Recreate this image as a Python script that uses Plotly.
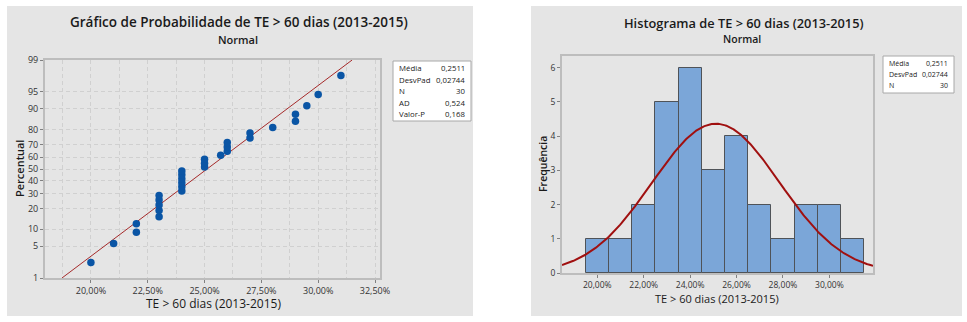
import plotly.graph_objects as go
from statistics import NormalDist
import numpy as np

W, H = 967, 322

# ---- data ----
te_values = [0.2000, 0.2100, 0.2200, 0.2200,
             0.2300, 0.2300, 0.2300, 0.2300, 0.2300,
             0.2400, 0.2400, 0.2400, 0.2400, 0.2400, 0.2400,
             0.2500, 0.2500, 0.2500, 0.2571,
             0.2600, 0.2600, 0.2600, 0.2700, 0.2700, 0.2800,
             0.2900, 0.2900, 0.2950, 0.3000, 0.3100]
mean_val = 0.2511
sd_val = 0.02744
n_val = 30
ad_val = "0,524"
p_val = "0,168"

hist_centers = [0.20, 0.21, 0.22, 0.23, 0.24, 0.25, 0.26, 0.27, 0.28, 0.29, 0.30, 0.31]
hist_counts = [1, 1, 2, 5, 6, 3, 4, 2, 1, 2, 2, 1]

prob_ticks = [1, 5, 10, 20, 30, 40, 50, 60, 70, 80, 90, 95, 99]

nd = NormalDist()
FONT = "Open Sans"


def px(x):
    return x / W


def py(y):
    return 1 - y / H


# median-rank plotting positions (Minitab default)
xs = sorted(te_values)
n = len(xs)
zs = [nd.inv_cdf((i + 1 - 0.3) / (n + 0.4)) for i in range(n)]
pct_txt = [f"{100*(i+1-0.3)/(n+0.4):.1f}" for i in range(n)]

zlim = nd.inv_cdf(0.99)
line_z = [-zlim, zlim]
line_x = [mean_val + sd_val * z for z in line_z]

fig = go.Figure()

fig.add_trace(go.Scatter(x=line_x, y=line_z, mode="lines",
                         line=dict(color="#A52A2A", width=1),
                         xaxis="x", yaxis="y", showlegend=False, hoverinfo="skip"))
fig.add_trace(go.Scatter(x=xs, y=zs, mode="markers",
                         marker=dict(color="#0A55A5", size=7.5),
                         text=pct_txt, xaxis="x", yaxis="y", showlegend=False))

# histogram
fig.add_trace(go.Bar(x=hist_centers, y=hist_counts, width=0.01,
                     marker=dict(color="#7BA6D8", line=dict(color="#4F5358", width=1)),
                     xaxis="x2", yaxis="y2", showlegend=False))
cx = np.linspace(0.1848, 0.3188, 300)
cy = [n_val * 0.01 * NormalDist(mean_val, sd_val).pdf(v) for v in cx]
fig.add_trace(go.Scatter(x=cx, y=cy, mode="lines",
                         line=dict(color="#A01010", width=2),
                         xaxis="x2", yaxis="y2", showlegend=False, hoverinfo="skip"))

frame = dict(showline=True, mirror=True, linecolor="#BDBDBD", linewidth=2,
             ticks="outside", ticklen=3, tickcolor="#808080", automargin=False,
             zeroline=False)

fig.update_layout(
    width=W, height=H, margin=dict(l=0, r=0, t=0, b=0, autoexpand=False),
    paper_bgcolor="white", plot_bgcolor="white",
    separators=",.",
    xaxis=dict(domain=[px(45), px(380)], range=[0.1798, 0.3272],
               tickvals=[0.20, 0.225, 0.25, 0.275, 0.30, 0.325], tickformat=".2%",
               showgrid=True, gridcolor="#D0D0D0", griddash="4px,3px", gridwidth=1,
               minor=dict(tickvals=[0.1875, 0.2125, 0.2375, 0.2625, 0.2875, 0.3125],
                          showgrid=True, gridcolor="#D0D0D0", griddash="4px,3px", ticks=""),
               tickfont=dict(family=FONT, size=9, color="#333333"),
               anchor="y", **frame),
    yaxis=dict(domain=[py(278), py(60)], range=[-zlim, zlim],
               tickvals=[nd.inv_cdf(p / 100) for p in prob_ticks],
               ticktext=[str(p) for p in prob_ticks],
               showgrid=True, gridcolor="#D0D0D0", griddash="4px,3px", gridwidth=1,
               tickfont=dict(family=FONT, size=9, color="#333333"),
               anchor="x", **frame),
    xaxis2=dict(domain=[px(562), px(873)], range=[0.1848, 0.3188],
                tickvals=[0.20, 0.22, 0.24, 0.26, 0.28, 0.30], tickformat=".2%",
                tickfont=dict(family=FONT, size=8.5, color="#333333"),
                showgrid=False, anchor="y2", **frame),
    yaxis2=dict(domain=[py(273), py(56)], range=[0, 6.34],
                tickfont=dict(family=FONT, size=8.5, color="#333333"),
                tickvals=[0, 1, 2, 3, 4, 5, 6], showgrid=False, anchor="x2", **frame),
    bargap=0,
)

shapes = [
    dict(type="rect", xref="paper", yref="paper", x0=px(7), x1=px(473), y0=py(316), y1=py(6),
         fillcolor="#E5E5E5", line=dict(width=0), layer="below"),
    dict(type="rect", xref="paper", yref="paper", x0=px(531), x1=px(962), y0=py(316), y1=py(6),
         fillcolor="#E5E5E5", line=dict(width=0), layer="below"),
    dict(type="rect", xref="paper", yref="paper", x0=px(393), x1=px(471), y0=py(121), y1=py(61),
         fillcolor="white", line=dict(color="#A8A8A8", width=1), layer="below"),
    dict(type="rect", xref="paper", yref="paper", x0=px(883), x1=px(954), y0=py(93), y1=py(56),
         fillcolor="white", line=dict(color="#A8A8A8", width=1), layer="below"),
]
fig.update_layout(shapes=shapes)

ann = []


def txt(x, y, s, size, xanchor="center", bold=False, color="#1A1A1A", angle=0):
    ann.append(dict(x=px(x), y=py(y), xref="paper", yref="paper", text=s, showarrow=False,
                    xanchor=xanchor, yanchor="middle", textangle=angle,
                    font=dict(family=FONT, size=size, color=color,
                              weight=600 if bold else 400)))


txt(239, 22, "Gráfico de Probabilidade de TE &gt; 60 dias (2013-2015)", 13.5, bold=True)
txt(238, 39, "Normal", 11, bold=True)
txt(213, 303, "TE &gt; 60 dias (2013-2015)", 12)
txt(19, 169, "Percentual", 11, bold=True, angle=-90)

txt(744, 23, "Histograma de TE &gt; 60 dias (2013-2015)", 12.8, bold=True)
txt(742, 39, "Normal", 10.5, bold=True)
txt(717, 298, "TE &gt; 60 dias (2013-2015)", 11)
txt(543, 164, "Frequência", 10.5, bold=True, angle=-90)

rows_l = [("Média", "0,2511"), ("DesvPad", "0,02744"), ("N", str(n_val)),
          ("AD", ad_val), ("Valor-P", p_val)]
for i, (k, v) in enumerate(rows_l):
    yy = 68.3 + i * 11.4
    txt(397, yy, k, 7.8, xanchor="left")
    txt(467, yy, v, 7.8, xanchor="right")

rows_r = rows_l[:3]
for i, (k, v) in enumerate(rows_r):
    yy = 63.3 + i * 11.3
    txt(887, yy, k, 7, xanchor="left")
    txt(950, yy, v, 7, xanchor="right")

fig.update_layout(annotations=ann)
fig.write_html("out.html")
